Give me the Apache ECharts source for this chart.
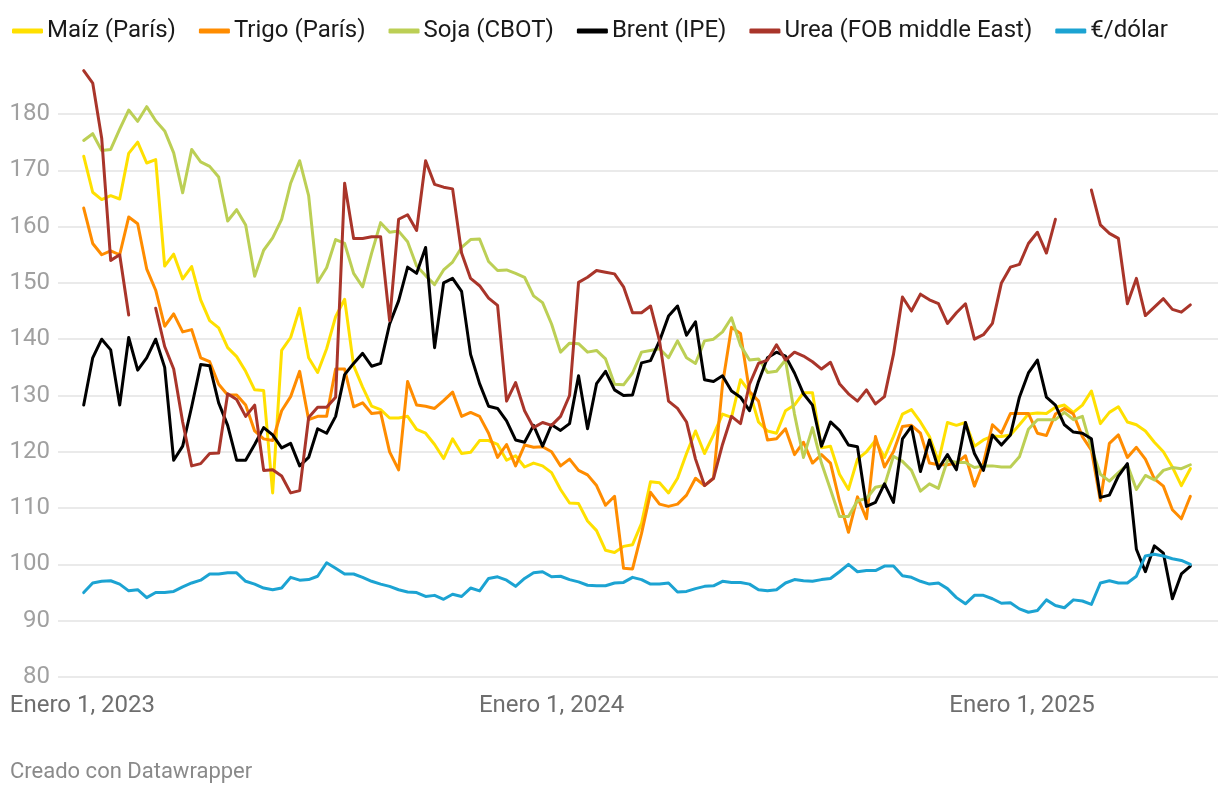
<!DOCTYPE html>
<html>
<head>
<meta charset="utf-8">
<script src="https://cdn.jsdelivr.net/npm/echarts@6/dist/echarts.min.js"></script>
<style>
html,body{margin:0;padding:0;background:#fff;}
#chart{width:1220px;height:794px;}
</style>
</head>
<body>
<div id="chart"></div>
<script>
// Weekly observations, first week starting 2023-01-02
const firstWeek = '2023-01-02';
const weekCount = 124;

const seriesNames = ['Maíz (París)', 'Trigo (París)', 'Soja (CBOT)', 'Brent (IPE)', 'Urea (FOB middle East)', '€/dólar'];

const maiz = [172.5,166.1,164.8,165.5,164.9,173,175,171.3,171.9,153,155.1,150.7,152.9,147,143.3,142,138.5,136.9,134.3,131,
130.9,112.7,138,140.3,145.5,136.7,134.1,138.3,144,147.1,135.3,131.5,128.1,127.5,126,126,126.3,124,123.3,121.3,
118.8,122.3,119.7,119.9,122,122,121.3,118.5,119.3,117.3,118,117.5,116.3,113.3,110.9,110.8,107.7,106,102.5,102.1,
103.2,103.5,107.3,114.7,114.5,112.7,115.3,119.7,123.7,119.7,123,126.7,126.1,132.8,130.7,125.3,123.7,123.3,127.3,128.3,
130.5,130.5,120.7,121,116,113.3,118.7,120,122,119,122.7,126.7,127.5,125.3,122.7,118.3,125.2,124.7,125.2,121,
122.1,122.8,122.7,123,124.8,126.7,126.9,126.8,127.9,128.3,127,128.3,130.8,125,127,128,125.3,124.8,123.7,121.7,
120,117.3,114,117];

const trigo = [163.3,157,155,155.7,155,161.7,160.5,152.5,148.7,142.3,144.5,141.3,141.7,136.7,136,132,130.1,130.1,128.3,123.7,
122.3,122,127.3,129.8,134.3,125.7,126.3,126.3,134.7,134.7,128,128.7,126.8,127,120,116.8,132.5,128.3,128.1,127.7,
129.1,130.6,126.3,127,126.3,123.3,119,121.3,117.5,121.2,120.8,120.9,120,117.5,118.7,116.7,115.9,114,110.5,112.1,
99.3,99.2,105.5,112.8,110.7,110.3,110.7,112.3,115.3,114,115.3,132,142.1,141,130.7,129,122.1,122.3,124.1,119.5,
121.7,118,119.5,118,111.3,105.7,112,108.1,122.7,117.3,120,124.5,124.7,123.3,118,117.7,117.7,118,119.3,113.9,
118,124.8,123.3,126.8,126.8,126.8,123.3,122.9,126.7,127.7,126.7,122.7,120.3,111.3,121.5,123,119,120.8,118.7,115.2,
113.9,109.7,108.1,112.1];

const soja = [175.3,176.5,173.5,173.7,177.3,180.7,178.7,181.3,178.8,177,173.1,166,173.7,171.5,170.7,168.8,161,163,160.3,151.2,
155.8,158,161.3,167.7,171.7,165.5,150.1,152.7,157.7,157,151.7,149.3,155.3,160.7,159,159.2,157.3,153,151.3,149.7,
152.3,153.7,156.3,157.7,157.8,153.8,152.2,152.3,151.7,151,147.7,146.5,142.7,137.7,139.3,139.2,137.7,138,136.5,132,
131.9,134,137.7,138,138.3,136.7,139.7,136.7,135.7,139.7,140,141.3,143.8,138.9,136.3,136.5,134.1,134.3,136.3,126.7,
119,124.3,118,113.3,108.5,108.5,111.3,111.7,113.7,114,119.2,118.3,116.7,113,114.3,113.5,118.5,118.1,118.1,117.2,
117.5,117.5,117.3,117.3,119.1,124,125.7,125.7,125.7,127,125.7,126.3,120.7,116,114.8,116.3,117.7,113.3,115.8,115,
116.7,117.2,117,117.7];

const brent = [128.3,136.7,140,138.1,128.3,140.3,134.5,136.7,140,135,118.5,121,128,135.5,135.3,128.7,124.7,118.5,118.5,121.3,
124.3,123,120.7,121.5,117.5,119,124.1,123.3,126.3,133.7,135.7,137.5,135.2,135.7,142.7,146.8,152.8,151.7,156.3,138.5,
150,150.8,148.5,137.3,132.1,128.1,127.7,125.5,122.1,121.7,124.7,121,124.8,123.8,125,133.5,124.1,132.1,134.3,131,
130,130.1,135.8,136.2,139.7,144.1,145.9,140.7,143.1,132.8,132.5,133.5,130.8,129.7,127.3,132.5,136.7,137.7,137,134,
130.3,128.3,121,125.3,123.8,121.2,120.9,110.3,111,114.3,111,122.3,124.5,116.5,122.1,117,119.5,116.8,125.2,119.7,
116.7,123,121.2,123,129.7,134,136.3,129.7,128.3,124.8,123.5,123.3,122.3,111.9,112.3,115.7,117.9,102.7,98.7,103.3,
102,93.9,98.3,99.7];

const urea = [187.7,185.5,175.7,154,155,144.3,null,null,145.5,138.7,134.7,125.3,117.5,117.9,119.7,119.8,130.3,129.3,126.3,128.3,
116.7,116.8,115.7,112.7,113.1,126.1,127.9,127.9,129.7,167.7,157.9,157.9,158.2,158.2,143.3,161.3,162.1,159.3,171.7,167.5,
167,166.7,155.3,150.8,149.5,147.3,146,129,132.3,127.3,124.3,125.2,124.7,126.3,130,150.1,151,152.2,151.9,151.6,
149.3,144.7,144.7,145.9,139.7,129,127.7,125.3,118.7,114,115.3,121.3,126.3,125,132,135.7,136.3,139,136.3,137.7,
137,136,134.7,135.9,132.1,130.3,129,131,128.5,129.8,137.3,147.5,145,148,147,146.3,142.8,144.7,146.3,140,
140.8,142.8,150,152.8,153.3,157,159,155.3,161.3,null,null,null,166.5,160.3,158.8,157.9,146.3,150.8,144.2,145.7,
147.2,145.3,144.8,146.1];

const eurDolar = [95,96.7,97,97.1,96.5,95.3,95.5,94.1,95,95,95.2,96,96.7,97.2,98.3,98.3,98.5,98.5,97,96.5,
95.8,95.5,95.8,97.7,97.2,97.3,97.9,100.3,99.3,98.3,98.3,97.7,97,96.5,96.1,95.5,95.1,95,94.3,94.5,
93.8,94.7,94.3,95.8,95.3,97.5,97.8,97.2,96.1,97.5,98.5,98.7,97.8,97.9,97.3,96.9,96.3,96.2,96.2,96.7,
96.8,97.7,97.3,96.5,96.5,96.7,95.1,95.2,95.7,96.1,96.2,97,96.8,96.8,96.5,95.5,95.3,95.5,96.7,97.3,
97.1,97,97.3,97.5,98.7,100,98.7,98.9,98.9,99.7,99.7,98,97.7,97,96.5,96.7,95.7,94.1,93,94.5,
94.5,93.9,93.1,93.2,92.1,91.5,91.8,93.7,92.7,92.3,93.7,93.5,92.9,96.7,97.1,96.7,96.7,97.9,101.5,101.8,
101.5,101,100.7,100];

const yearTickLabels = {2023: 'Enero 1, 2023', 2024: 'Enero 1, 2024', 2025: 'Enero 1, 2025'};
const colors = ['#ffe000', '#ff8c00', '#bccf55', '#000000', '#a9352a', '#1ca3d2'];

// build weekly dates
const DAY = 24 * 3600 * 1000;
const t0 = new Date(2023, 0, 2).getTime();
const dates = [];
for (let i = 0; i < weekCount; i++) {
  const d = new Date(t0 + i * 7 * DAY + 12 * 3600 * 1000);
  dates.push(new Date(d.getFullYear(), d.getMonth(), d.getDate()).getTime());
}

const allValues = [maiz, trigo, soja, brent, urea, eurDolar];

const chart = echarts.init(document.getElementById('chart'), null, {renderer: 'canvas'});

const series = allValues.map((vals, k) => ({
  name: seriesNames[k],
  type: 'line',
  showSymbol: false,
  symbol: 'none',
  clip: false,
  connectNulls: false,
  color: colors[k],
  lineStyle: {width: 3, color: colors[k], join: 'round', cap: 'round'},
  emphasis: {disabled: true},
  data: dates.map((d, i) => [d, vals[i] == null ? null : vals[i]])
}));

const option = {
  animation: false,
  backgroundColor: '#ffffff',
  textStyle: {fontFamily: 'Roboto'},
  title: {
    text: 'Creado con Datawrapper',
    left: 5,
    top: 756,
    textStyle: {fontFamily: 'Roboto', fontWeight: 'normal', fontSize: 22, color: '#8a8a8a'}
  },
  legend: {
    left: 7,
    top: 14,
    icon: 'roundRect',
    itemWidth: 31,
    itemHeight: 5,
    itemGap: 23,
    data: seriesNames,
    textStyle: {fontFamily: 'Roboto', fontSize: 24, color: '#1a1a1a', padding: [0, 0, 0, -1]}
  },
  grid: {left: 58, right: 2, top: 114, bottom: 117, containLabel: false},
  xAxis: {
    type: 'time',
    min: new Date(2022, 11, 13, 0).getTime(),
    max: new Date(2025, 5, 2, 12).getTime(),
    minInterval: 365 * DAY,
    maxInterval: 366 * DAY,
    splitNumber: 3,
    axisLine: {show: false},
    axisTick: {show: false},
    splitLine: {show: false},
    axisLabel: {
      showMinLabel: false,
      showMaxLabel: false,
      margin: 17,
      fontSize: 24,
      fontFamily: 'Roboto',
      color: '#6e6e6e',
      hideOverlap: false,
      formatter: function (value) {
        const d = new Date(value);
        if (d.getMonth() === 0 && d.getDate() === 1 && yearTickLabels[d.getFullYear()]) {
          return yearTickLabels[d.getFullYear()];
        }
        return '';
      }
    }
  },
  yAxis: {
    type: 'value',
    min: 80,
    max: 180,
    interval: 10,
    axisLine: {show: false},
    axisTick: {show: false},
    axisLabel: {margin: 8, fontSize: 24, fontFamily: 'Roboto', color: '#a0a0a0'},
    splitLine: {show: true, lineStyle: {color: '#e3e3e3', width: 1.5}}
  },
  series: series
};

chart.setOption(option);
</script>
</body>
</html>
